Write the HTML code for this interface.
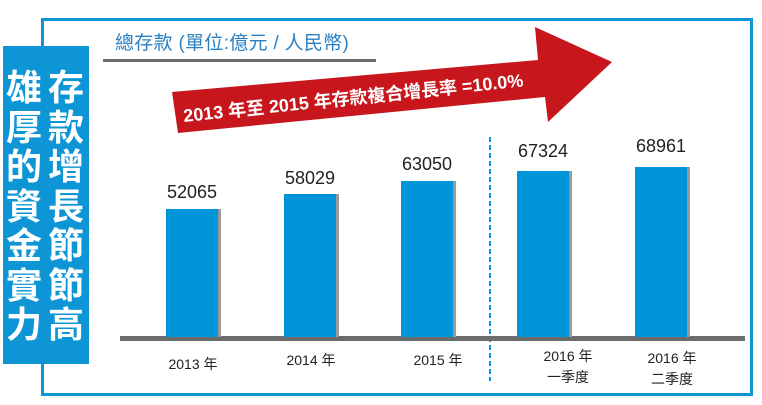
<!DOCTYPE html>
<html><head><meta charset="utf-8"><style>
body{margin:0;width:762px;height:405px;background:#fff;overflow:hidden;position:relative;font-family:"Liberation Sans","Noto Sans CJK TC",sans-serif}
.a{position:absolute}
.frame{left:41px;top:18px;width:706px;height:372px;border:3px solid #0e95d5}
.lb{left:3px;top:46px;width:86px;height:318px;background:#0e95d5}
.col{position:absolute;top:66px;width:40px;color:#fff;font-weight:bold;font-size:36px;line-height:39.5px;text-align:center;font-family:"Noto Sans CJK TC",sans-serif}
.bar{position:absolute;background:#0095d8;box-shadow:3px 0 0 #9a9a9a;bottom:68px;width:52px}
.v{position:absolute;font-size:18px;color:#222;width:80px;text-align:center}
.x{position:absolute;font-size:14px;color:#222;width:80px;text-align:center;line-height:21px;font-family:"Liberation Sans Narrow","Liberation Sans","Noto Sans CJK TC",sans-serif}
</style></head><body>
<div class="a frame"></div>
<div class="a lb"></div>
<div class="col" style="left:4px">雄<br>厚<br>的<br>資<br>金<br>實<br>力</div>
<div class="col" style="left:46px">存<br>款<br>增<br>長<br>節<br>節<br>高</div>
<div class="a" style="left:115px;top:28px;font-size:19px;color:#2b80c2;letter-spacing:0.3px">總存款 (單位:億元 / 人民幣)</div>
<div class="a" style="left:103px;top:59px;width:273px;height:3px;background:#6b6b6b"></div>
<svg class="a" style="left:0;top:0" width="762" height="405">
<polygon points="172,92 538,60 535,27 612,62 548,122 545,97 178,133" fill="#c8161d"/>
<text x="184" y="122" transform="rotate(-6 184 122)" fill="#fff" font-weight="bold" font-size="18" font-family="Liberation Sans,Noto Sans CJK TC,sans-serif">2013 年至 2015 年存款複合增長率 =10.0%</text>
<line x1="490" y1="137" x2="490" y2="381" stroke="#0e95d5" stroke-width="2" stroke-dasharray="5,3"/>
</svg>
<div class="a" style="left:120px;top:336px;width:625px;height:5px;background:#6b6b6b"></div>
<div class="bar" style="left:166px;top:209px"></div>
<div class="bar" style="left:284px;top:194px"></div>
<div class="bar" style="left:401px;top:181px"></div>
<div class="bar" style="left:517px;top:171px"></div>
<div class="bar" style="left:635px;top:167px"></div>
<div class="v" style="left:152px;top:182px">52065</div>
<div class="v" style="left:270px;top:168px">58029</div>
<div class="v" style="left:387px;top:154px">63050</div>
<div class="v" style="left:503px;top:141px">67324</div>
<div class="v" style="left:621px;top:136px">68961</div>
<div class="x" style="left:153px;top:354px">2013 年</div>
<div class="x" style="left:271px;top:350px">2014 年</div>
<div class="x" style="left:398px;top:350px">2015 年</div>
<div class="x" style="left:528px;top:346px">2016 年<br>一季度</div>
<div class="x" style="left:632px;top:348px">2016 年<br>二季度</div>
</body></html>
